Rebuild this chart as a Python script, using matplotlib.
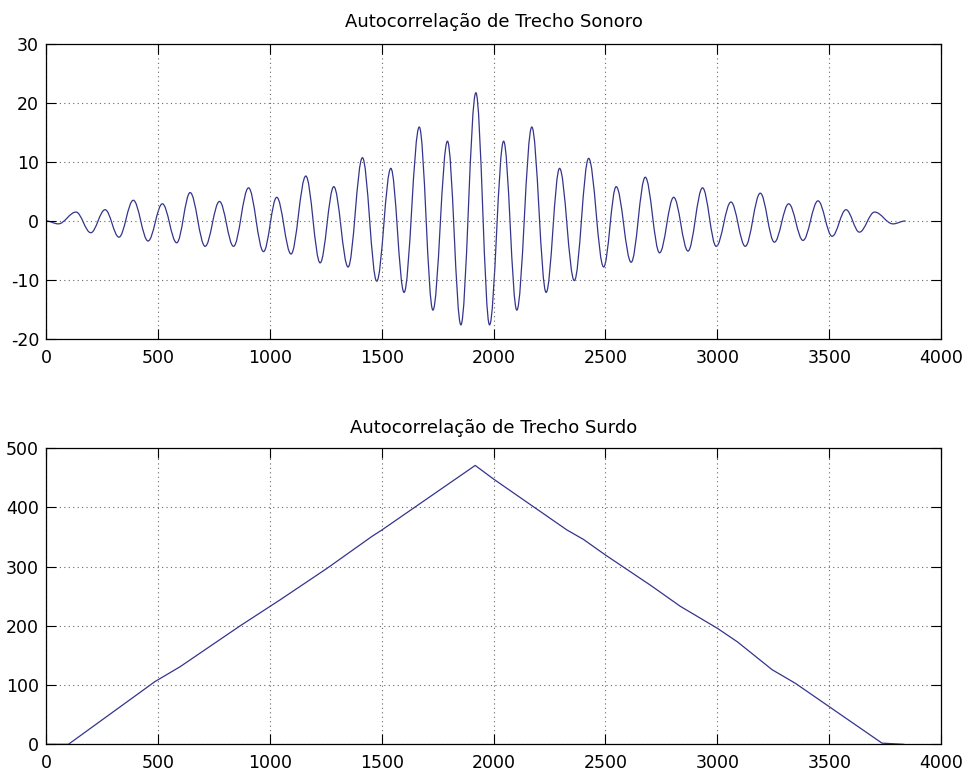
import matplotlib
matplotlib.use("Agg")
import matplotlib.pyplot as plt
from matplotlib.path import Path
from matplotlib.patches import PathPatch

# extremos (lag, valor)
sonoro_lag = [0, 55, 134, 200, 264, 326, 390, 456, 520, 584,
              644, 711, 775, 838, 905, 972, 1031, 1095, 1161, 1225,
              1286, 1350, 1414, 1478, 1541, 1600, 1668, 1729, 1794, 1854,
              1921, 1982, 2045, 2104, 2171, 2235, 2295, 2361, 2425, 2492,
              2548, 2615, 2678, 2742, 2805, 2869, 2934, 2995, 3061, 3125,
              3192, 3255, 3319, 3383, 3450, 3513, 3575, 3635, 3703, 3785,
              3841]
sonoro_val = [0, -0.5, 1.5, -2.0, 1.9, -2.75, 3.5, -3.4, 2.9, -3.7,
              4.8, -4.3, 3.3, -4.3, 5.6, -5.2, 4.0, -5.6, 7.6, -7.1,
              5.8, -7.8, 10.7, -10.2, 8.9, -12.1, 15.9, -15.1, 13.5, -17.6,
              21.7, -17.6, 13.5, -15.1, 15.9, -12.1, 8.9, -10.1, 10.6, -7.8,
              5.8, -7.0, 7.4, -5.4, 4.0, -5.1, 5.6, -4.3, 3.2, -4.3,
              4.7, -3.6, 2.9, -3.3, 3.4, -2.6, 1.9, -1.9, 1.5, -0.5,
              0]

surdo_lag = [0, 100, 487, 599, 867, 1046, 1255, 1456, 1501, 1918,
             2000, 2328, 2402, 2499, 2700, 2835, 3000, 3090, 3245, 3349,
             3736, 3832]
surdo_val = [0, 0, 106, 131, 200, 244, 297, 351, 362, 471,
             448, 362, 346, 320, 269, 233, 196, 173, 126, 103,
             2, 0]

xticks = [0, 500, 1000, 1500, 2000, 2500, 3000, 3500, 4000]
yticks_sonoro = [-20, -10, 0, 10, 20, 30]
yticks_surdo = [0, 100, 200, 300, 400, 500]

LINE = "#34348c"


def smooth_path(xs, ys, k=0.3642):
    # curva suave passando pelos extremos (tangente horizontal em cada um)
    verts = [(xs[0], ys[0])]
    codes = [Path.MOVETO]
    for i in range(1, len(xs)):
        x0, y0 = xs[i - 1], ys[i - 1]
        x1, y1 = xs[i], ys[i]
        dx = x1 - x0
        verts += [(x0 + k * dx, y0), (x1 - k * dx, y1), (x1, y1)]
        codes += [Path.CURVE4] * 3
    return Path(verts, codes)


def style(ax, yticks):
    ax.set_xlim(0, 4000)
    ax.set_ylim(yticks[0], yticks[-1])
    ax.set_xticks(xticks)
    ax.set_yticks(yticks)
    ax.grid(True, linestyle=(0, (1, 3)), color="#666666", linewidth=0.8)
    ax.tick_params(direction="in", length=7, width=0.8, top=True, right=True,
                   labelsize=12.5, pad=5)
    ax.tick_params(axis="x", pad=7)
    for s in ax.spines.values():
        s.set_linewidth(0.9)


def main():
    plt.rcParams["font.family"] = ["DejaVu Sans"]
    plt.rcParams["axes.unicode_minus"] = False
    fig = plt.figure(figsize=(9.67, 7.73), dpi=100)

    ax1 = fig.add_axes([0.0476, 0.5614, 0.9256, 0.382])
    ax1.add_patch(PathPatch(smooth_path(sonoro_lag, sonoro_val), fill=False,
                            edgecolor=LINE, linewidth=0.9))
    style(ax1, yticks_sonoro)
    ax1.set_title("Autocorrelação de Trecho Sonoro", fontsize=13, pad=12)

    ax2 = fig.add_axes([0.0476, 0.0371, 0.9256, 0.383])
    ax2.plot(surdo_lag, surdo_val, color=LINE, linewidth=0.9)
    style(ax2, yticks_surdo)
    ax2.set_title("Autocorrelação de Trecho Surdo", fontsize=13, pad=11)

    fig.savefig("out.png", dpi=100)
    return 0


if __name__ == "__main__":
    exit(main())
